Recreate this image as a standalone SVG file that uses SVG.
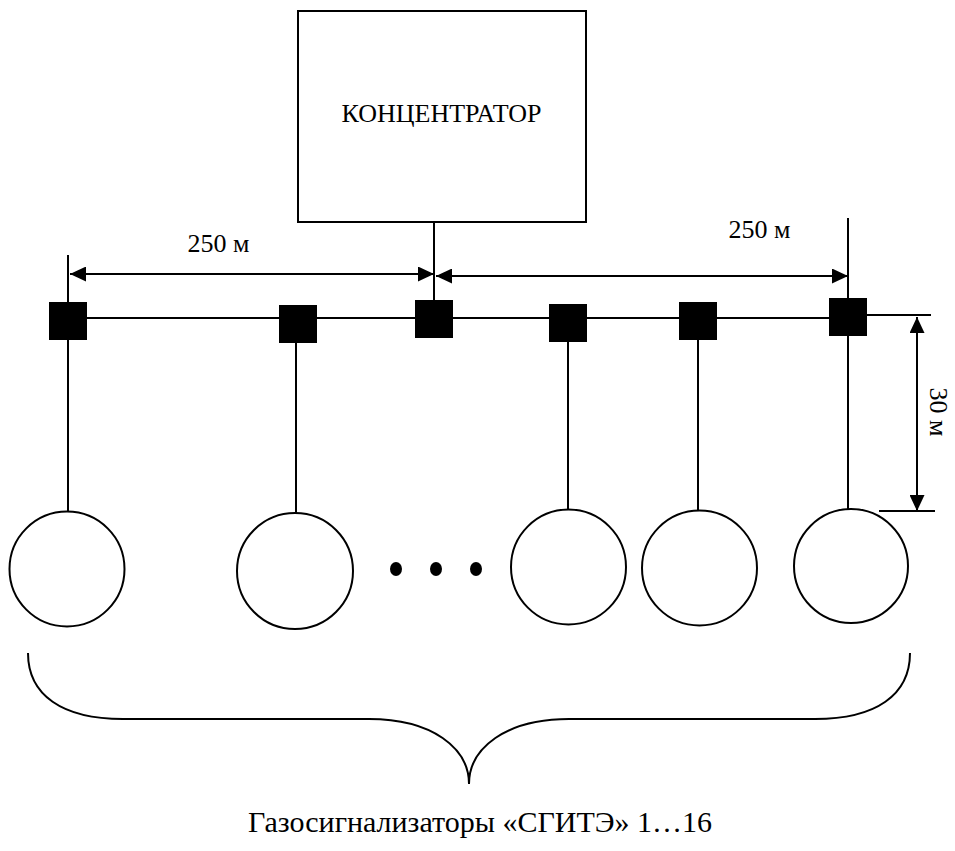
<svg xmlns="http://www.w3.org/2000/svg" width="955" height="851" viewBox="0 0 955 851">
<style>
.ln{stroke:#000;stroke-width:2;fill:none}
.sq{fill:#000}
.ci{fill:#fff;stroke:#000;stroke-width:2}
.t{font-family:"Liberation Serif","Times New Roman",serif;font-size:26px;fill:#000}
.tb{font-family:"Liberation Serif","Times New Roman",serif;font-size:30px;fill:#000}
</style>
<defs>
<marker id="ah" markerUnits="userSpaceOnUse" markerWidth="16" markerHeight="15" refX="16" refY="7.5" orient="auto-start-reverse">
<path d="M0,0 L16,7.5 L0,15 z" fill="#000"/>
</marker>
</defs>
<rect width="955" height="851" fill="#fff"/>
<g id="connectors">
<line class="ln" x1="434" y1="222" x2="434" y2="302"/>
<line class="ln" x1="68" y1="318" x2="848" y2="318"/>
<line class="ln" x1="68" y1="255" x2="68" y2="511"/>
<line class="ln" x1="296" y1="323" x2="296" y2="513"/>
<line class="ln" x1="568" y1="323" x2="568" y2="509"/>
<line class="ln" x1="698" y1="321" x2="698" y2="511"/>
<line class="ln" x1="848" y1="218" x2="848" y2="509"/>
<line class="ln" x1="848" y1="315" x2="931" y2="315"/>
<line class="ln" x1="879" y1="511" x2="935" y2="511"/>
<line class="ln" x1="70" y1="274" x2="434" y2="274" marker-start="url(#ah)" marker-end="url(#ah)"/>
<line class="ln" x1="436" y1="276" x2="848" y2="276" marker-start="url(#ah)" marker-end="url(#ah)"/>
<line class="ln" x1="917" y1="317" x2="917" y2="511" marker-start="url(#ah)" marker-end="url(#ah)"/>
<path class="ln" d="M28,653 C28,695 62,719 123,719 L369,719 C432,719 469,748 469,784 C469,748 506,719 569,719 L815,719 C876,719 910,695 910,653"/>
</g>
<g id="concentrator">
<rect class="ln" x="298" y="11" width="288" height="211"/>
<text class="t" x="441.5" y="122" text-anchor="middle">КОНЦЕНТРАТОР</text>
</g>
<g id="label-250-left"><text class="t" x="218.5" y="252" text-anchor="middle">250 м</text></g>
<g id="label-250-right"><text class="t" x="759.5" y="238" text-anchor="middle">250 м</text></g>
<g id="label-30"><text class="t" transform="translate(930,412) rotate(90)" text-anchor="middle">30 м</text></g>
<g id="node-s1"><rect class="sq" x="49" y="302" width="38" height="38"/></g>
<g id="node-s2"><rect class="sq" x="279" y="305" width="38" height="38"/></g>
<g id="node-s3"><rect class="sq" x="415" y="300" width="38" height="38"/></g>
<g id="node-s4"><rect class="sq" x="549" y="304" width="38" height="38"/></g>
<g id="node-s5"><rect class="sq" x="679" y="302" width="38" height="38"/></g>
<g id="node-s6"><rect class="sq" x="829" y="298" width="38" height="38"/></g>
<g id="node-c1"><circle class="ci" cx="67" cy="569" r="57.5"/></g>
<g id="node-c2"><circle class="ci" cx="295" cy="571" r="58"/></g>
<g id="node-c3"><circle class="ci" cx="568.5" cy="567" r="57.5"/></g>
<g id="node-c4"><circle class="ci" cx="699.5" cy="568" r="57.5"/></g>
<g id="node-c5"><circle class="ci" cx="851" cy="566" r="57"/></g>
<g id="dots">
<ellipse cx="396" cy="569" rx="6" ry="7"/>
<ellipse cx="436" cy="569" rx="6" ry="7"/>
<ellipse cx="476" cy="569" rx="6" ry="7"/>
</g>
<g id="caption"><text class="tb" x="480" y="832" text-anchor="middle">Газосигнализаторы «СГИТЭ» 1…16</text></g>
</svg>
